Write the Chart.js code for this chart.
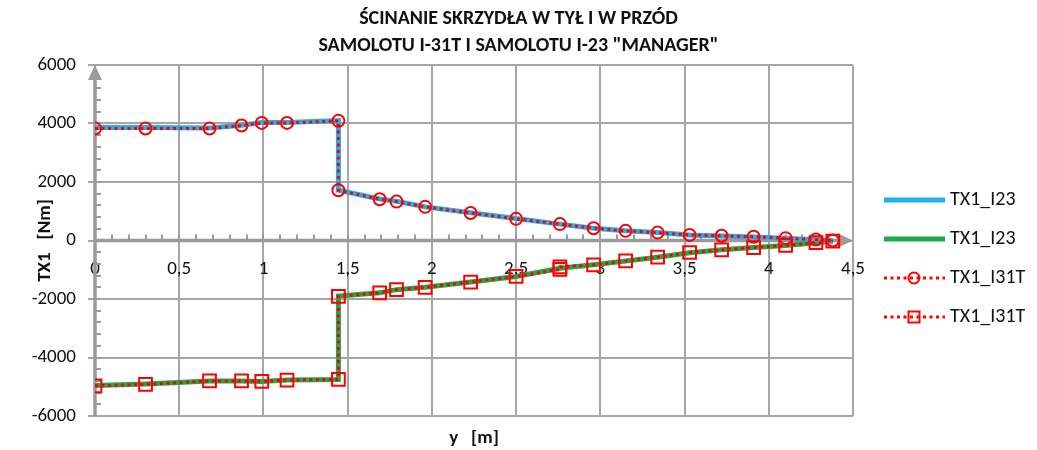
<!DOCTYPE html>
<html lang="pl">
<head>
<meta charset="utf-8">
<title>Ścinanie skrzydła</title>
<script src="https://cdn.jsdelivr.net/npm/chart.js@4.4.1/dist/chart.umd.min.js"></script>
<style>
  html, body { margin: 0; padding: 0; background: #fff; }
  #wrap { width: 1037px; height: 450px; position: relative; }
</style>
</head>
<body>
<div id="wrap"><canvas id="chart"></canvas></div>
<script>
/* ─── DATA ───────────────────────────────────────────────────
   Spanwise position y [m] and shear TX1 [Nm].
─────────────────────────────────────────────────────────────── */

const Y_M       = [0, 0.30, 0.68, 0.87, 0.99, 1.14, 1.445, 1.445, 1.69, 1.79, 1.96, 2.23, 2.50, 2.76, 2.96, 3.15, 3.34, 3.53, 3.72, 3.91, 4.10, 4.28, 4.38];
const Y_M_PRZOD = [0, 0.30, 0.68, 0.87, 0.99, 1.14, 1.445, 1.445, 1.69, 1.79, 1.96, 2.23, 2.50, 2.76, 2.76, 2.96, 3.15, 3.34, 3.53, 3.72, 3.91, 4.10, 4.28, 4.38];

const TX1_I23_TYL    = [3860, 3860, 3850, 3940, 4030, 4030, 4100, 1720, 1420, 1340, 1150, 950, 750, 560, 420, 330, 270, 190, 150, 120, 80, 30, 0];
const TX1_I23_PRZOD  = [-4960, -4910, -4800, -4800, -4820, -4770, -4750, -1900, -1790, -1680, -1600, -1420, -1230, -950, -830, -700, -570, -420, -320, -240, -170, -80, -20];
const TX1_I31T_TYL   = [3830, 3830, 3830, 3930, 4020, 4020, 4090, 1720, 1410, 1330, 1150, 940, 740, 560, 420, 330, 270, 190, 160, 130, 80, 30, 0];
const TX1_I31T_PRZOD = [-4970, -4920, -4800, -4800, -4820, -4770, -4750, -1910, -1790, -1680, -1600, -1420, -1230, -990, -900, -830, -700, -570, -410, -320, -240, -170, -75, -20];

const X_TICKS  = [0, 0.5, 1, 1.5, 2, 2.5, 3, 3.5, 4, 4.5];
const X_LABELS = ['0', '0,5', '1', '1,5', '2', '2,5', '3', '3,5', '4', '4,5'];
const Y_TICKS  = [-6000, -4000, -2000, 0, 2000, 4000, 6000];
const Y_LABELS = ['-6000', '-4000', '-2000', '0', '2000', '4000', '6000'];

const TITLE = ['ŚCINANIE SKRZYDŁA W TYŁ I W PRZÓD', 'SAMOLOTU I-31T I SAMOLOTU I-23 "MANAGER"'];


/* ─── LOOK ─────────────────────────────────────────────────── */

const FONT       = 'Carlito, Lato, "Open Sans", sans-serif';
const GRID_GREY  = '#a6a6a6';
const AXIS_GREY  = '#9a9a9a';
const BLUE       = '#22b0ea';
const GREEN      = '#1daa4c';
const RED        = '#ff0000';

Chart.defaults.font.family = FONT;
Chart.defaults.font.size = 19;
Chart.defaults.color = '#111';

const pts = (xs, ys) => xs.map((x, i) => ({ x, y: ys[i] }));


/* ─── AXES WITH ARROWS ───────────────────────────────────────
   Grey axis lines through zero, minor ticks, arrow heads.
─────────────────────────────────────────────────────────────── */

const axisDecor = {
  id: 'axisDecor',
  beforeDatasetsDraw(chart) {
    const { ctx, scales: { x, y } } = chart;
    const x0   = x.getPixelForValue(0);
    const xEnd = x.getPixelForValue(4.5);
    const y0   = y.getPixelForValue(0);
    const yTop = y.getPixelForValue(6000);
    const yBot = y.getPixelForValue(-6000);

    ctx.save();
    ctx.strokeStyle = AXIS_GREY;
    ctx.fillStyle = AXIS_GREY;

    /* minor ticks: every 400 on y, every 0.1 on x */
    ctx.lineWidth = 2;
    ctx.beginPath();
    for (let v = -6000 + 400; v < 6000 - 400; v += 400) {
      const p = Math.round(y.getPixelForValue(v));
      ctx.moveTo(x0, p);
      ctx.lineTo(x0 + 6, p);
    }
    for (let i = 1; i < 44; i++) {
      const p = Math.round(x.getPixelForValue(i / 10));
      ctx.moveTo(p, y0);
      ctx.lineTo(p, y0 - 6);
    }
    ctx.stroke();

    /* axis lines */
    ctx.lineWidth = 3.5;
    ctx.beginPath();
    ctx.moveTo(x0, yBot);
    ctx.lineTo(x0, yTop + 12);
    ctx.moveTo(x0, y0);
    ctx.lineTo(xEnd - 12, y0);
    ctx.stroke();

    /* arrow heads */
    ctx.beginPath();
    ctx.moveTo(x0, yTop);
    ctx.lineTo(x0 - 7, yTop + 15);
    ctx.lineTo(x0 + 7, yTop + 15);
    ctx.closePath();
    ctx.moveTo(xEnd, y0);
    ctx.lineTo(xEnd - 15, y0 - 7);
    ctx.lineTo(xEnd - 15, y0 + 7);
    ctx.closePath();
    ctx.fill();
    ctx.restore();
  },
};


/* ─── LEGEND ─────────────────────────────────────────────────
   Drawn by hand at the right so the dotted samples keep their marker.
─────────────────────────────────────────────────────────────── */

const sideLegend = {
  id: 'sideLegend',
  afterDraw(chart) {
    const { ctx } = chart;
    const x1 = 884, x2 = 945, xm = 914;
    const rows = [200, 239, 278, 317];

    ctx.save();
    chart.data.datasets.forEach((ds, i) => {
      const yy = rows[i];
      ctx.strokeStyle = ds.borderColor;
      ctx.lineWidth = ds.borderWidth;
      ctx.setLineDash(ds.borderDash || []);
      ctx.beginPath();
      ctx.moveTo(x1, yy);
      ctx.lineTo(x2, yy);
      ctx.stroke();
      ctx.setLineDash([]);

      ctx.lineWidth = 2;
      if (ds.pointStyle === 'circle' && ds.pointRadius > 0) {
        ctx.beginPath();
        ctx.arc(xm, yy, 5.5, 0, Math.PI * 2);
        ctx.stroke();
      } else if (ds.pointStyle === 'rect' && ds.pointRadius > 0) {
        ctx.strokeRect(xm - 5.5, yy - 5.5, 11, 11);
      }

      ctx.fillStyle = '#111';
      ctx.font = `20px ${FONT}`;
      ctx.textBaseline = 'middle';
      ctx.fillText(ds.label, 950, yy);
    });
    ctx.restore();
  },
};


/* ─── CHART ──────────────────────────────────────────────── */

const chart = new Chart(document.getElementById('chart'), {
  type: 'scatter',
  data: {
    datasets: [
      {
        label: 'TX1_I23',
        data: pts(Y_M, TX1_I23_TYL),
        showLine: true,
        borderColor: BLUE,
        borderWidth: 5,
        pointRadius: 0,
        order: 2,
      },
      {
        label: 'TX1_I23',
        data: pts(Y_M, TX1_I23_PRZOD),
        showLine: true,
        borderColor: GREEN,
        borderWidth: 5,
        pointRadius: 0,
        order: 2,
      },
      {
        label: 'TX1_I31T',
        data: pts(Y_M, TX1_I31T_TYL),
        showLine: true,
        borderColor: RED,
        borderWidth: 3,
        borderDash: [3, 3.5],
        pointStyle: 'circle',
        pointRadius: 6,
        pointBorderWidth: 2,
        pointBorderColor: RED,
        pointBackgroundColor: 'rgba(0,0,0,0)',
        order: 1,
      },
      {
        label: 'TX1_I31T',
        data: pts(Y_M_PRZOD, TX1_I31T_PRZOD),
        showLine: true,
        borderColor: RED,
        borderWidth: 3,
        borderDash: [3, 3.5],
        pointStyle: 'rect',
        pointRadius: 9,
        pointBorderWidth: 2,
        pointBorderColor: RED,
        pointBackgroundColor: 'rgba(0,0,0,0)',
        order: 1,
      },
    ],
  },
  options: {
    responsive: true,
    maintainAspectRatio: false,
    animation: false,
    layout: { padding: 0 },
    plugins: {
      legend: { display: false },
      tooltip: { enabled: false },
      title: {
        display: true,
        text: TITLE,
        color: '#111',
        font: { size: 20, weight: 'bold', lineHeight: 1.35 },
        padding: { top: 5.5, bottom: 5.5 },
      },
    },
    scales: {
      x: {
        type: 'linear',
        position: 'bottom',
        min: 0,
        max: 4.5,
        afterBuildTicks: (s) => { s.ticks = X_TICKS.map((v) => ({ value: v })); },
        afterFit: (s) => { s.height = 34; },
        ticks: { display: false },
        grid: { color: GRID_GREY, lineWidth: 2, drawTicks: false },
        border: { display: false },
        title: {
          display: true,
          text: 'y   [m]',
          font: { size: 19, weight: 'bold' },
          padding: 0,
        },
      },
      xZero: {
        type: 'linear',
        position: { y: 0 },
        min: 0,
        max: 4.5,
        afterBuildTicks: (s) => { s.ticks = X_TICKS.map((v) => ({ value: v })); },
        ticks: {
          padding: 17,
          callback: (v) => X_LABELS[X_TICKS.indexOf(v)],
        },
        grid: { display: false, drawTicks: false },
        border: { display: false },
      },
      y: {
        type: 'linear',
        position: 'left',
        min: -6000,
        max: 6000,
        afterBuildTicks: (s) => { s.ticks = Y_TICKS.map((v) => ({ value: v })); },
        afterFit: (s) => { s.width = 95; },
        ticks: {
          padding: 12,
          callback: (v) => Y_LABELS[Y_TICKS.indexOf(v)],
        },
        grid: { color: GRID_GREY, lineWidth: 2, tickLength: 7 },
        border: { display: false },
        title: {
          display: true,
          text: 'TX1   [Nm]',
          font: { size: 19, weight: 'bold' },
          padding: { top: 33.5, bottom: 0 },
        },
      },
      /* empty right-hand box: keeps room for the legend */
      legendSpace: {
        type: 'linear',
        position: 'right',
        display: true,
        afterFit: (s) => { s.width = 184; },
        ticks: { display: false },
        grid: { display: false, drawTicks: false },
        border: { display: false },
      },
    },
  },
  plugins: [axisDecor, sideLegend],
});
</script>
</body>
</html>
